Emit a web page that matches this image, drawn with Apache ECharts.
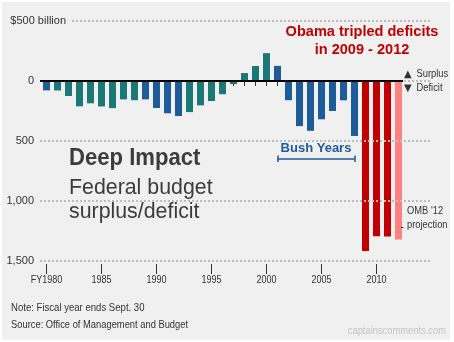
<!DOCTYPE html>
<html><head><meta charset="utf-8">
<script src="https://cdn.jsdelivr.net/npm/echarts@6/dist/echarts.min.js"></script>
<style>html,body{margin:0;padding:0;background:#fff;}#c{width:454px;height:342px;}</style>
</head><body><div id="c"></div>
<script>
// ---- data ----
const years = ['1980','1981','1982','1983','1984','1985','1986','1987','1988','1989','1990','1991','1992','1993','1994','1995','1996','1997','1998','1999','2000','2001','2002','2003','2004','2005','2006','2007','2008','2009','2010','2011','2012'];
const balance = [-78,-79,-125,-211,-186,-212,-226,-153,-160,-153,-225,-269,-292,-259,-203,-167,-110,-26,66,125,232,126,-160,-376,-415,-319,-250,-161,-458,-1417,-1294,-1296,-1320];
const eras = ['Carter','Reagan','Reagan','Reagan','Reagan','Reagan','Reagan','Reagan','Reagan','BushSr','BushSr','BushSr','BushSr','Clinton','Clinton','Clinton','Clinton','Clinton','Clinton','Clinton','Clinton','Bush','Bush','Bush','Bush','Bush','Bush','Bush','Bush','Obama','Obama','Obama','Projection'];
const xTickYears = ['1980','1985','1990','1995','2000','2005','2010'];
const xTickLabels = ['FY1980','1985','1990','1995','2000','2005','2010'];
const yTickValues = [-1500,-1000,-500,0,500];
const yTickLabels = ['1,500','1,000','500','0','$500 billion'];
const bushYears = ['2001','2008'];
const bushBracketLevel = -647;

// ---- styles ----
const BLUE = '#1d5b99', TEAL = '#1a7974', RED = '#c00000', PINK = '#ff8080';
const eraColor = {Carter:BLUE, Reagan:TEAL, BushSr:BLUE, Clinton:TEAL, Bush:BLUE, Obama:RED, Projection:PINK};
const FONT = "'Liberation Sans', Arial, Helvetica, sans-serif";
const TXT = '#333333';

const chart = echarts.init(document.getElementById('c'), null, {renderer:'canvas'});

function yLabel(v){
  const i = yTickValues.indexOf(v);
  if (i < 0 || v === 500) return '';
  return yTickLabels[i];
}

function txt(x, y, text, opts){
  return Object.assign({type:'text', x:x, y:y, z:20, silent:true,
    style: Object.assign({text:text, fill:TXT, fontFamily:FONT, fontSize:11, align:'left', verticalAlign:'middle'}, opts.style || {})
  }, opts.el || {});
}

const gridLineStyle = {color:'#bdbdbd', width:2, type:'dotted'};

const option = {
  backgroundColor: '#f0f0f0',
  animation: false,
  grid: [
    {left:40, right:22, top:21, bottom:81},
    {left:41, width:363, top:21, bottom:81}
  ],
  xAxis: [
    {gridIndex:0, type:'value', min:0, max:1, show:false},
    {gridIndex:1, type:'category', data:years, position:'bottom', offset:3,
      axisLine:{show:false},
      axisTick:{show:true, alignWithLabel:true, interval:0, length:5, lineStyle:{color:'#333', width:1}},
      axisLabel:{show:false}, splitLine:{show:false}},
    {gridIndex:1, type:'category', data:years, position:'bottom', offset:3,
      axisLine:{show:false},
      axisTick:{show:true, alignWithLabel:true, interval:(i)=> i % 5 === 0, length:10, lineStyle:{color:'#333', width:1}},
      axisLabel:{show:false},
      splitLine:{show:false}}
  ],
  yAxis: [
    {gridIndex:0, type:'value', min:-1500, max:500, interval:500,
      axisLine:{show:false}, axisTick:{show:false},
      axisLabel:{margin:6, fontFamily:FONT, fontSize:11, color:TXT, formatter:yLabel},
      splitLine:{show:true, lineStyle:gridLineStyle}},
    {gridIndex:1, type:'value', min:-1500, max:500, interval:500, show:false}
  ],
  series: [
  {
    type:'line', xAxisIndex:0, yAxisIndex:0, data:[[0.5, 0]], symbol:'none', silent:true,
    lineStyle:{opacity:0}, z:1,
    markLine:{
      silent:true, symbol:'none', animation:false, label:{show:false},
      lineStyle:gridLineStyle,
      data: yTickValues.filter(v => v !== 0).map(v => ({yAxis:v}))
    }
  },
  {
    type:'bar', xAxisIndex:1, yAxisIndex:1, data:balance, barWidth:7,
    itemStyle:{color:(p)=> eraColor[eras[p.dataIndex]]},
    markLine:{
      silent:true, symbol:'none', animation:false,
      data:[
        [{yAxis:0, x:40, lineStyle:{color:'#000', width:2, type:'solid'}, label:{show:false}}, {yAxis:0, x:403}],
        [{coord:[bushYears[0], bushBracketLevel], lineStyle:{color:BLUE, width:1.5, type:'solid'},
          label:{show:true, position:'middle', formatter:'Bush Years', color:BLUE, fontFamily:FONT, fontWeight:'bold', fontSize:13, distance:4}},
         {coord:[bushYears[1], bushBracketLevel]}],
        [{coord:[bushYears[0], bushBracketLevel+27], lineStyle:{color:BLUE, width:1.5, type:'solid'}, label:{show:false}}, {coord:[bushYears[0], bushBracketLevel-27]}],
        [{coord:[bushYears[1], bushBracketLevel+27], lineStyle:{color:BLUE, width:1.5, type:'solid'}, label:{show:false}}, {coord:[bushYears[1], bushBracketLevel-27]}]
      ]
    }
  }],
  graphic: [
    {type:'rect', z:30, silent:true, shape:{x:0, y:0, width:454, height:2}, style:{fill:'#fff'}},
    {type:'rect', z:30, silent:true, shape:{x:0, y:340, width:454, height:2}, style:{fill:'#fff'}},
    {type:'rect', z:30, silent:true, shape:{x:0, y:0, width:2, height:342}, style:{fill:'#fff'}},
    {type:'rect', z:30, silent:true, shape:{x:450, y:0, width:4, height:342}, style:{fill:'#fff'}},
    txt(71, 21, yTickLabels[4], {style:{align:'right', backgroundColor:'#f0f0f0', padding:[2,5,2,0]}}),
    txt(362, 32, 'Obama tripled deficits', {style:{align:'center', fill:RED, fontWeight:'bold', fontSize:15}, el:{scaleX:0.97}}),
    txt(362, 50, 'in 2009 - 2012', {style:{align:'center', fill:RED, fontWeight:'bold', fontSize:15}, el:{scaleX:0.97}}),
    txt(69, 158, 'Deep Impact', {style:{fill:'#3c3c3c', fontWeight:'bold', fontSize:24}, el:{scaleX:0.92}}),
    txt(69, 188, 'Federal budget', {style:{fill:'#3c3c3c', fontSize:22}, el:{scaleX:0.97}}),
    txt(69, 212, 'surplus/deficit', {style:{fill:'#3c3c3c', fontSize:22}, el:{scaleX:0.97}}),
    txt(404, 74, '\u25B2', {style:{fontFamily:"'DejaVu Sans', sans-serif", fontSize:10}}),
    txt(404, 88, '\u25BC', {style:{fontFamily:"'DejaVu Sans', sans-serif", fontSize:10}}),
    txt(416.5, 74, 'Surplus', {style:{fontSize:11}, el:{scaleX:0.85}}),
    txt(416.5, 88, 'Deficit', {style:{fontSize:11}, el:{scaleX:0.85}}),
    txt(407, 211, "OMB '12", {style:{fontSize:11}, el:{scaleX:0.85}}),
    txt(407, 225, 'projection', {style:{fontSize:11}, el:{scaleX:0.85}}),
    {type:'line', z:20, silent:true, shape:{x1:401, y1:227.5, x2:403.5, y2:227.5}, style:{stroke:'#333', lineWidth:1}},
    txt(11, 308, 'Note: Fiscal year ends Sept. 30', {style:{fontSize:11}, el:{scaleX:0.87}}),
    txt(11, 325, 'Source: Office of Management and Budget', {style:{fontSize:11}, el:{scaleX:0.85}}),
    txt(446, 331, 'captainscomments.com', {style:{align:'right', fill:'#c4c4c4', fontSize:11}, el:{scaleX:0.85}})
  ]
};
chart.setOption(option);

// x-axis tick labels: positioned through the category axis, drawn narrow like the original
const baseY = chart.convertToPixel({yAxisIndex:1}, -1500);
const xLabelGraphics = xTickYears.map((yr, i) => {
  const px = chart.convertToPixel({xAxisIndex:2}, yr);
  return txt(px, baseY + 19, xTickLabels[i], {style:{align:'center', fontSize:11}, el:{scaleX:0.82}});
});
chart.setOption({graphic: option.graphic.concat(xLabelGraphics)});
</script>
</body></html>
